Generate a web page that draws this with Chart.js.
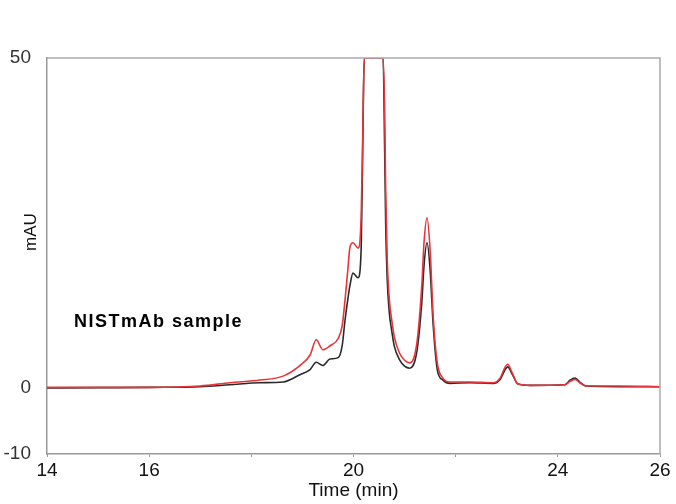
<!DOCTYPE html>
<html>
<head>
<meta charset="utf-8">
<script src="https://cdn.jsdelivr.net/npm/chart.js@4"></script>
<style>
  html, body { margin: 0; padding: 0; background: #fff; }
  #wrap { width: 676px; height: 504px; position: relative; }
</style>
</head>
<body>
<div id="wrap"><canvas id="chart" width="676" height="504"></canvas></div>
<script>
// retention time (min)
const times = [
  14.00, 15.04, 16.02, 17.00, 17.58, 18.17, 18.62, 18.95, 19.15, 19.27,
  19.40, 19.54, 19.70, 19.78, 19.83, 19.89, 19.93, 19.99, 20.09, 20.15,
  20.18, 20.21, 20.58, 20.61, 20.63, 20.66, 20.70, 20.75, 20.80, 20.90,
  21.00, 21.10, 21.24, 21.34, 21.38, 21.44, 21.50, 21.56, 21.64, 21.75,
  21.89, 22.28, 22.73, 22.87, 22.97, 23.02, 23.10, 23.22, 23.46, 24.14,
  24.24, 24.34, 24.43, 24.55, 25.22, 26.00
]
const redValues = [
  0.1, 0.1, 0.1, 0.3, 0.8, 1.2, 1.8, 3.4, 5.0, 7.3,
  5.8, 6.4, 7.5, 9.5, 13.0, 18.0, 21.3, 22.0, 21.2, 26.0,
  38.0, 50.0, 50.0, 42.0, 30.0, 19.5, 13.5, 10.2, 7.7, 5.3,
  4.2, 3.8, 6.8, 15.9, 22.0, 25.8, 20.9, 10.8, 3.8, 1.5,
  0.9, 0.9, 0.8, 1.5, 3.2, 3.6, 2.4, 0.6, 0.4, 0.5,
  1.0, 1.3, 0.8, 0.3, 0.3, 0.2
]
const blackValues = [
  0.0, 0.05, 0.1, 0.2, 0.5, 0.8, 0.9, 2.0, 2.8, 3.9,
  3.4, 4.4, 4.6, 6.5, 10.0, 13.5, 15.5, 17.4, 16.7, 21.0,
  36.0, 50.0, 50.0, 36.0, 25.0, 16.5, 11.5, 8.6, 6.3, 4.3,
  3.3, 3.0, 5.5, 13.3, 18.5, 22.0, 17.9, 9.5, 2.8, 1.2,
  0.7, 0.8, 0.7, 1.3, 2.8, 3.2, 2.2, 0.6, 0.4, 0.5,
  1.2, 1.5, 0.9, 0.3, 0.2, 0.2
]
const xLabels = [14, 16, 20, 24, 26]
const yTicks = [-10, 0, 50]
const yTitle = 'mAU'
const annotation = 'NISTmAb sample'

const pts = vals => times.map((t, i) => ({ x: t, y: vals[i] }))
const font = 'Liberation Sans, Arial, Helvetica, sans-serif'

const framePlugin = {
  id: 'frame',
  afterDraw(chart) {
    const { ctx, chartArea: a } = chart
    ctx.save()
    ctx.strokeStyle = '#aaaaaa'
    ctx.lineWidth = 1.5
    ctx.beginPath()
    ctx.moveTo(a.left, a.top)
    ctx.lineTo(a.right, a.top)
    ctx.lineTo(a.right, a.bottom)
    ctx.stroke()

    // y axis title, sits a bit above the middle like the original
    ctx.save()
    ctx.translate(31, 232)
    ctx.rotate(-Math.PI / 2)
    ctx.fillStyle = '#111'
    ctx.font = '17px ' + font
    ctx.textAlign = 'center'
    ctx.textBaseline = 'middle'
    ctx.fillText(yTitle, 0, 0)
    ctx.restore()

    // sample label
    ctx.fillStyle = '#000'
    ctx.font = 'bold 18px ' + font
    ctx.letterSpacing = '1.5px'
    ctx.textBaseline = 'alphabetic'
    ctx.fillText(annotation, 74, 327)
    ctx.restore()
  }
}

new Chart(document.getElementById('chart'), {
  type: 'line',
  data: {
    datasets: [
      {
        label: 'Red',
        data: pts(redValues),
        borderColor: '#e8343a',
        borderWidth: 1.6,
        pointRadius: 0,
        tension: 0.4,
        cubicInterpolationMode: 'monotone'
      },
      {
        label: 'Black',
        data: pts(blackValues),
        borderColor: '#2a2a2a',
        borderWidth: 1.6,
        pointRadius: 0,
        tension: 0.4,
        cubicInterpolationMode: 'monotone'
      }
    ]
  },
  options: {
    responsive: false,
    animation: false,
    layout: { padding: { top: 58, right: 16, bottom: 0, left: 0 } },
    plugins: { legend: { display: false }, tooltip: { enabled: false } },
    scales: {
      x: {
        type: 'linear',
        min: 14,
        max: 26,
        afterFit: s => { s.height = 50 },
        ticks: {
          stepSize: 2,
          color: '#111',
          font: { family: font, size: 19 },
          padding: 2,
          maxRotation: 0,
          callback: v => xLabels.includes(v) ? v : ''
        },
        grid: { drawOnChartArea: false, drawTicks: true, tickLength: 3, color: '#999' },
        border: { color: '#999', width: 1.5 },
        title: {
          display: true,
          text: 'Time (min)',
          color: '#111',
          font: { family: font, size: 19 },
          padding: { top: 0, bottom: 2 }
        }
      },
      y: {
        min: -10,
        max: 50,
        afterFit: s => { s.width = 47 },
        afterBuildTicks: s => { s.ticks = yTicks.map(v => ({ value: v })) },
        ticks: {
          color: '#333',
          font: { family: font, size: 19 },
          padding: 8
        },
        grid: { display: false },
        border: { color: '#999', width: 1.5 }
      }
    }
  },
  plugins: [framePlugin]
})
</script>
</body>
</html>
